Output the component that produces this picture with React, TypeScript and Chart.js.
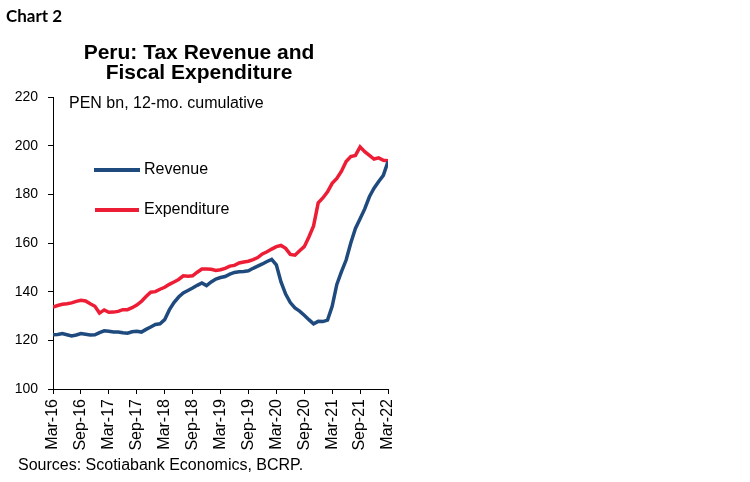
import React, { useEffect, useRef } from "react";
import { Chart, registerables } from "chart.js";

Chart.register(...registerables);

const xTickLabels = ["Mar-16", "Sep-16", "Mar-17", "Sep-17", "Mar-18", "Sep-18", "Mar-19", "Sep-19", "Mar-20", "Sep-20", "Mar-21", "Sep-21", "Mar-22"];

const revenue = [
  122.3, 122.4, 122.8, 122.3, 121.8, 122.2, 122.8, 122.5, 122.2, 122.3,
  123.2, 123.9, 123.7, 123.4, 123.4, 123.1, 122.9, 123.5, 123.7, 123.4, 124.5, 125.5,
  126.5, 126.8, 128.5, 132.5, 135.5, 137.8, 139.5, 140.5, 141.5, 142.6, 143.6, 142.5,
  144.0, 145.2, 145.8, 146.2, 147.2, 147.9, 148.2, 148.3, 148.6, 149.6, 150.5, 151.4,
  152.4, 153.3, 151.0, 144.0, 139.0, 135.5, 133.3, 132.0, 130.3, 128.5, 126.8, 127.8,
  127.7, 128.3, 134.0, 143.0, 148.2, 153.0, 160.0, 166.0, 170.0, 174.0, 179.0, 182.5,
  185.3, 187.8, 193.5,
];

const expenditure = [
  133.7, 134.3, 134.8, 135.0, 135.4, 136.0, 136.5, 136.2, 135.0, 134.0,
  131.2, 132.5, 131.5, 131.6, 131.9, 132.6, 132.6, 133.4, 134.5, 136.0, 138.0, 139.8,
  140.0, 141.0, 141.8, 143.0, 144.0, 145.0, 146.5, 146.3, 146.5, 148.0, 149.3, 149.3,
  149.2, 148.7, 149.0, 149.6, 150.5, 150.8, 151.8, 152.2, 152.5, 153.2, 154.0, 155.5,
  156.4, 157.5, 158.5, 159.0, 157.8, 155.3, 155.0, 156.8, 158.5, 162.5, 167.0, 176.5,
  178.5, 181.0, 184.5, 186.5, 189.5, 193.5, 195.5, 196.0, 199.5, 197.5, 196.0, 194.5,
  195.0, 194.0, 193.8,
];

const BLUE = "#1F4A7E";
const RED = "#EE1D36";
const FONT = "'Liberation Sans', Arial, sans-serif";

export default function App() {
  const ref = useRef<HTMLCanvasElement>(null);

  useEffect(() => {
    if (!ref.current) return;
    const chart = new Chart(ref.current, {
      type: "line",
      data: {
        datasets: [
          {
            label: "Revenue",
            data: revenue.map((v, i) => ({ x: i, y: v })),
            borderColor: BLUE,
            borderWidth: 3.5,
            pointRadius: 0,
            tension: 0,
          },
          {
            label: "Expenditure",
            data: expenditure.map((v, i) => ({ x: i, y: v })),
            borderColor: RED,
            borderWidth: 3.5,
            pointRadius: 0,
            tension: 0,
          },
        ],
      },
      options: {
        responsive: false,
        animation: false,
        layout: { padding: { top: 97, right: 362, bottom: 23, left: 0 } },
        plugins: { legend: { display: false }, tooltip: { enabled: false }, title: { display: false } },
        scales: {
          x: {
            type: "linear",
            min: 0,
            max: 72,
            afterFit: (s: any) => { s.height = 70; },
            ticks: {
              stepSize: 6,
              autoSkip: false,
              maxRotation: 90,
              minRotation: 90,
              padding: 5,
              color: "#000",
              font: { family: FONT, size: 16 },
              callback: (v: any) => xTickLabels[Math.round(Number(v) / 6)] ?? "",
            },
            grid: { drawOnChartArea: false, drawTicks: true, tickLength: 5, color: "#000" },
            border: { display: true, color: "#000", width: 1 },
          },
          y: {
            min: 100,
            max: 220,
            afterFit: (s: any) => { s.width = 53; },
            ticks: {
              stepSize: 20,
              padding: 10,
              color: "#000",
              font: { family: FONT, size: 14 },
            },
            grid: { drawOnChartArea: false, drawTicks: true, tickLength: 5, color: "#000" },
            border: { display: true, color: "#000", width: 1 },
          },
        },
      },
    });
    return () => chart.destroy();
  }, []);

  const abs = (left: number, top: number, extra: React.CSSProperties = {}): React.CSSProperties => ({
    position: "absolute",
    left,
    top,
    whiteSpace: "nowrap",
    fontFamily: FONT,
    color: "#000",
    ...extra,
  });

  return (
    <div style={{ position: "fixed", left: 0, top: 0, width: 750, height: 482, background: "#fff", overflow: "hidden" }}>
      <canvas ref={ref} width={750} height={482} style={{ position: "absolute", left: 0, top: 0 }} />
      <div style={abs(6, 6, { fontFamily: "Lato, 'Open Sans', sans-serif", fontWeight: 700, fontSize: 17, lineHeight: "20px" })}>Chart 2</div>
      <div style={abs(59, 42, { width: 280, textAlign: "center", fontWeight: 700, fontSize: 21, lineHeight: "20px" })}>
        Peru: Tax Revenue and
        <br />
        Fiscal Expenditure
      </div>
      <div style={abs(69, 94, { fontSize: 16, lineHeight: "18px" })}>PEN bn, 12-mo. cumulative</div>
      <div style={abs(94, 168, { width: 46, height: 4, background: BLUE })} />
      <div style={abs(144, 160, { fontSize: 16, lineHeight: "18px" })}>Revenue</div>
      <div style={abs(95, 208, { width: 44, height: 4, background: RED })} />
      <div style={abs(144, 200, { fontSize: 16, lineHeight: "18px" })}>Expenditure</div>
      <div style={abs(18, 456, { fontSize: 16, lineHeight: "18px" })}>Sources: Scotiabank Economics, BCRP.</div>
    </div>
  );
}
